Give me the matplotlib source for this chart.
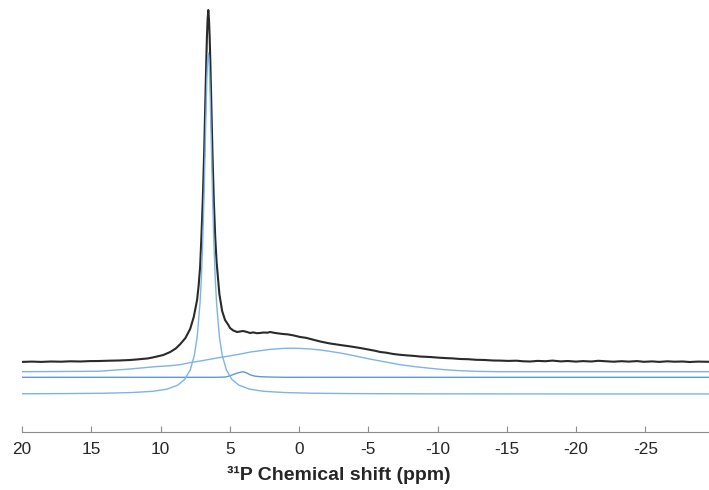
import numpy as np
from matplotlib import pyplot as plt

plt.rcParams['font.family'] = ['Liberation Sans', 'DejaVu Sans']

# measured spectrum (black), intensity above its own baseline
exp_ppm = [20.0, 19.3, 18.6, 17.9, 17.2, 16.5, 15.8, 15.1, 14.4, 13.7, 13.0, 12.2,
           11.5, 10.9, 10.4, 9.8, 9.3, 8.9, 8.6, 8.2, 7.86, 7.6, 7.36, 7.25, 7.14,
           7.05, 6.95, 6.85, 6.75, 6.7, 6.65, 6.6, 6.55, 6.5, 6.45, 6.4, 6.35, 6.25,
           6.15, 6.05, 5.95, 5.75, 5.55, 5.34, 5.1, 4.98, 4.75, 4.47, 4.25, 4.04,
           3.8, 3.53, 3.3, 3.05, 2.81, 2.55, 2.3, 2.09, 1.8, 1.5, 1.15, 0.8, 0.4,
           -0.08, -0.5, -1.0, -1.53, -2.2, -2.97, -3.7, -4.41, -5.0, -5.5, -5.86,
           -6.3, -6.8, -7.3, -7.8, -8.3, -8.8, -9.47, -10.0, -10.6, -11.1, -11.64,
           -12.2, -12.8, -13.4, -14.0, -14.5, -15.1, -15.7, -16.2, -16.7, -17.2,
           -17.8, -18.3, -18.9, -19.4, -20.0, -20.5, -21.1, -21.6, -22.2, -22.7,
           -23.3, -23.8, -24.4, -24.9, -25.5, -26.0, -26.6, -27.1, -27.7, -28.2,
           -28.8, -29.6]
exp_int = [-0.9, -0.6, -0.9, -0.5, -0.7, -0.3, -0.5, -0.1, 0.0, 0.3, 0.5, 1.0,
           1.8, 2.6, 4.0, 6.0, 9.0, 12.5, 16.5, 23.0, 32.0, 44.0, 61.0, 75.0, 94.0,
           123.0, 160.0, 208.0, 268.0, 297.5, 323.6, 341.5, 351.0, 341.5, 323.6,
           297.5, 268.0, 208.5, 160.0, 124.0, 99.0, 67.0, 50.0, 41.0, 36.0, 33.0,
           30.5, 29.0, 29.5, 30.0, 29.2, 28.0, 28.6, 27.8, 28.0, 28.5, 28.3, 29.0,
           28.2, 27.6, 27.0, 26.6, 25.6, 24.0, 23.2, 21.4, 19.5, 17.6, 16.0, 14.6,
           13.0, 11.5, 10.2, 9.0, 8.3, 7.0, 6.2, 5.6, 5.1, 4.4, 4.0, 3.4, 2.9, 2.6,
           2.0, 1.8, 1.2, 1.0, 0.5, 0.4, 0.1, 0.3, -0.3, -0.5, 0.1, -0.2, 0.4, -0.4,
           0.0, -0.6, -0.1, -0.5, 0.2, -0.3, -0.7, -0.2, -0.6, -0.1, -0.8, -0.4,
           -0.9, -0.3, -0.7, -0.5, -1.0, -0.6, -0.8]

# broad component
broad_ppm = [20.0, 16.0, 14.4, 12.2, 10.4, 9.3, 8.6, 7.9, 7.0, 6.0, 5.0, 4.0, 3.5,
             2.8, 2.1, 1.15, 0.5, -0.08, -0.8, -1.53, -2.2, -2.97, -3.7, -4.41,
             -5.1, -5.86, -6.6, -7.3, -8.4, -9.47, -10.5, -11.64, -13.0, -14.5, -29.6]
broad_int = [0.0, 0.3, 0.5, 2.7, 5.0, 6.0, 7.0, 9.0, 11.0, 13.5, 15.8, 18.3, 19.7,
             21.0, 22.3, 23.3, 23.5, 23.3, 22.7, 21.7, 20.4, 18.7, 16.8, 14.7,
             12.7, 10.7, 8.8, 7.0, 5.0, 3.4, 2.0, 1.0, 0.3, 0.0, 0.0]

# small component near 4 ppm
small_ppm = [20.0, 6.0, 5.6, 5.3, 4.98, 4.75, 4.5, 4.25, 4.04, 3.8, 3.53, 3.2, 2.8,
             2.0, 1.0, -29.6]
small_int = [0.0, 0.0, 0.1, 0.3, 1.5, 2.8, 4.0, 5.0, 5.5, 4.5, 2.5, 1.2, 0.6,
             0.2, 0.0, 0.0]

# sharp component
sharp_ppm = [20.0, 16.55, 14.05, 12.05, 10.55, 9.55, 8.75, 8.25, 7.85, 7.55, 7.35,
             7.15, 7.05, 6.95, 6.85, 6.75, 6.7, 6.65, 6.6, 6.55, 6.5, 6.45, 6.4,
             6.35, 6.25, 6.15, 6.05, 5.95, 5.75, 5.55, 5.25, 4.85, 4.35, 3.55, 2.55,
             1.05, -0.95, -3.45, -6.9, -12.0, -20.0, -29.6]
sharp_int = [0.24, 0.44, 0.78, 1.46, 2.7, 4.8, 8.9, 14.6, 24.3, 39.1, 57.4, 90.3,
             116.4, 152.6, 201.3, 260.6, 290.5, 316.6, 334.5, 341.0, 334.5, 316.6,
             290.5, 260.6, 201.3, 152.6, 116.4, 90.3, 57.4, 39.1, 24.3, 14.6, 8.9,
             4.8, 2.7, 1.46, 0.78, 0.44, 0.24, 0.11, 0.05, 0.03]

tick_vals = [20, 15, 10, 5, 0, -5, -10, -15, -20, -25]
tick_text = ['20', '15', '10', '5', '0', '-5', '-10', '-15', '-20', '-25']

# vertical stacking offsets
off_exp = 71.0
off_broad = 60.3
off_small = 54.7
off_sharp = 38.0

fig = plt.figure(figsize=(7.09, 4.90), dpi=100)
ax = fig.add_axes([22 / 709, 58 / 490, 687 / 709, 432 / 490])

ax.plot(exp_ppm, np.array(exp_int) + off_exp, color='#2a2a2a', lw=1.5)
ax.plot(broad_ppm, np.array(broad_int) + off_broad, color='#7db4e6', lw=1.0)
ax.plot(small_ppm, np.array(small_int) + off_small, color='#5b9bd5', lw=1.0)
ax.plot(sharp_ppm, np.array(sharp_int) + off_sharp, color='#7db4e6', lw=1.0)

ax.set_xlim(20, -29.6)
ax.set_ylim(0, 432)
ax.set_xticks(tick_vals)
ax.set_xticklabels(tick_text)
ax.set_yticks([])
for s in ['top', 'left', 'right']:
    ax.spines[s].set_visible(False)
ax.spines['bottom'].set_color('#8c8c8c')
ax.tick_params(axis='x', direction='in', length=4.3, color='#8c8c8c',
               labelsize=12.4, labelcolor='#262626', pad=7)
ax.set_xlabel('\u00b3\u00b9P Chemical shift (ppm)', fontsize=14, fontweight='bold',
              color='#262626')
ax.xaxis.set_label_coords((339 - 22) / 687, -34 / 432)
ax.patch.set_alpha(0)

plt.savefig('out.png', dpi=100)
